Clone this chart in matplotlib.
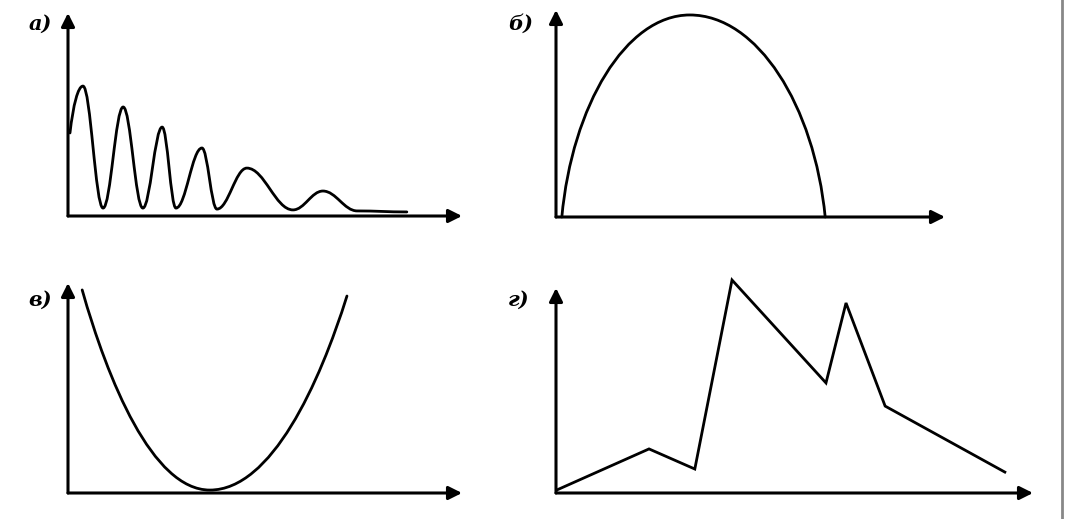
import matplotlib
matplotlib.use('Agg')
import matplotlib.pyplot as plt
from matplotlib.path import Path
from matplotlib.patches import PathPatch
from matplotlib.lines import Line2D

W, H = 1076, 519

# ---- data (axis units: arrow tips at 100) ----
# а) damped oscillation: successive extrema
osc_x = [0.5, 3.8, 8.9, 14.0, 19.0, 23.9, 27.4, 34.0, 37.8, 45.4, 57.1, 64.7, 73.4, 86.0]
osc_y = [40.9, 64.0, 3.9, 53.7, 3.9, 43.8, 3.9, 33.5, 3.4, 23.6, 3.0, 12.3, 2.5, 2.0]
# б) arch: start, peak, end
arch_x = [1.5, 34.4, 69.2]
arch_y = [0.0, 97.6, 0.0]
# в) U-curve: start, minimum, end
u_x = [3.6, 36.0, 70.8]
u_y = [96.7, 1.4, 93.8]
# г) broken line
poly_x = [0.2, 19.5, 29.1, 36.9, 56.6, 60.8, 69.0, 94.1]
poly_y = [1.5, 21.5, 11.7, 103.9, 53.7, 92.7, 42.4, 10.2]

labels = ['а)', 'б)', 'в)', 'г)']

# panel geometry in pixels: origin x, origin y (from top), x length, y length
panels = [(68, 216, 394, 203), (556, 217, 389, 207),
          (68, 493, 394, 210), (556, 493, 477, 205)]
label_pos = [(40, 24), (521, 24), (40, 300), (519, 300)]

LW_AX = 2.2
LW_C = 2.0

fig = plt.figure(figsize=(W / 100, H / 100), dpi=100)
fig.patch.set_facecolor('white')

axes = []
for (ox, oy, lx, ly) in panels:
    ax = fig.add_axes([ox / W, 1 - oy / H, lx / W, ly / H])
    ax.set_xlim(0, 100)
    ax.set_ylim(0, 100)
    ax.axis('off')
    for xy in [(1, 0), (0, 1)]:
        ax.annotate('', xy=xy, xytext=(0, 0), xycoords='axes fraction',
                    textcoords='axes fraction',
                    arrowprops=dict(arrowstyle='-|>', lw=LW_AX, color='black',
                                    mutation_scale=20, shrinkA=0, shrinkB=0))
    axes.append(ax)


def add_path(ax, verts, codes):
    ax.add_patch(PathPatch(Path(verts, codes), fill=False, lw=LW_C,
                           edgecolor='black', clip_on=False, capstyle='round',
                           joinstyle='round'))


# а)
verts = [(osc_x[0], osc_y[0])]
codes = [Path.MOVETO]
for i in range(len(osc_x) - 1):
    x0, y0, x1, y1 = osc_x[i], osc_y[i], osc_x[i + 1], osc_y[i + 1]
    dx = x1 - x0
    if i == 0:
        c1 = (x0 + 0.25 * dx, y0 + 0.6 * (y1 - y0))
    else:
        c1 = (x0 + 0.38 * dx, y0)
    c2 = (x1 - 0.38 * dx, y1)
    verts += [c1, c2, (x1, y1)]
    codes += [Path.CURVE4] * 3
add_path(axes[0], verts, codes)

# б)
x0, xp, xe = arch_x
y0, yp, ye = arch_y
verts = [(x0, y0), (x0 + 0.08 * (xp - x0), y0 + 0.55 * (yp - y0)),
         (xp - 0.5 * (xp - x0), yp), (xp, yp),
         (xp + 0.5 * (xe - xp), yp), (xe - 0.08 * (xe - xp), ye + 0.55 * (yp - ye)),
         (xe, ye)]
codes = [Path.MOVETO] + [Path.CURVE4] * 6
add_path(axes[1], verts, codes)

# в)
x0, xv, xe = u_x
y0, yv, ye = u_y
verts = [(x0, y0), (x0 + 0.2 * (xv - x0), y0 + 0.45 * (yv - y0)),
         (xv - 0.45 * (xv - x0), yv), (xv, yv),
         (xv + 0.45 * (xe - xv), yv), (xe - 0.2 * (xe - xv), ye + 0.45 * (yv - ye)),
         (xe, ye)]
codes = [Path.MOVETO] + [Path.CURVE4] * 6
add_path(axes[2], verts, codes)

# г)
axes[3].plot(poly_x, poly_y, color='black', lw=LW_C, clip_on=False,
             solid_joinstyle='miter')

for (px, py), lab in zip(label_pos, labels):
    fig.text(px / W, 1 - py / H, lab, ha='center', va='center',
             fontsize=15, fontstyle='italic', fontweight='bold',
             family='DejaVu Serif')

# scan border on the right
fig.add_artist(Line2D([1062 / W, 1062 / W], [0, 1], color='#888888', lw=2,
                      transform=fig.transFigure))

fig.savefig('out.png', dpi=100, facecolor='white')
